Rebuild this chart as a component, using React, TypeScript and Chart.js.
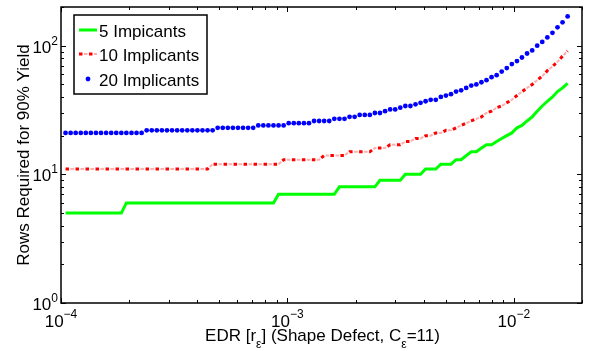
import React, { useEffect, useRef } from 'react';
import { Chart, registerables } from 'chart.js';

Chart.register(...registerables);

// EDR values (x), log-spaced grid
const edr = [
  1.047e-4, 1.103e-4, 1.161e-4, 1.223e-4, 1.287e-4, 1.355e-4, 1.427e-4, 1.502e-4, 1.582e-4, 1.666e-4,
  1.754e-4, 1.847e-4, 1.944e-4, 2.048e-4, 2.156e-4, 2.270e-4, 2.390e-4, 2.517e-4, 2.650e-4, 2.790e-4,
  2.938e-4, 3.093e-4, 3.257e-4, 3.429e-4, 3.611e-4, 3.802e-4, 4.003e-4, 4.215e-4, 4.438e-4, 4.673e-4,
  4.920e-4, 5.181e-4, 5.455e-4, 5.744e-4, 6.048e-4, 6.368e-4, 6.705e-4, 7.060e-4, 7.434e-4, 7.827e-4,
  8.241e-4, 8.678e-4, 9.137e-4, 9.621e-4, 1.013e-3, 1.067e-3, 1.123e-3, 1.183e-3, 1.245e-3, 1.311e-3,
  1.380e-3, 1.453e-3, 1.530e-3, 1.611e-3, 1.697e-3, 1.787e-3, 1.881e-3, 1.981e-3, 2.085e-3, 2.196e-3,
  2.312e-3, 2.434e-3, 2.563e-3, 2.699e-3, 2.842e-3, 2.992e-3, 3.151e-3, 3.317e-3, 3.493e-3, 3.678e-3,
  3.873e-3, 4.077e-3, 4.293e-3, 4.521e-3, 4.760e-3, 5.012e-3, 5.277e-3, 5.557e-3, 5.851e-3, 6.160e-3,
  6.486e-3, 6.830e-3, 7.191e-3, 7.572e-3, 7.973e-3, 8.395e-3, 8.839e-3, 9.307e-3, 9.800e-3, 1.032e-2,
  1.086e-2, 1.144e-2, 1.205e-2, 1.268e-2, 1.335e-2, 1.406e-2, 1.481e-2, 1.559e-2, 1.641e-2, 1.728e-2,
];

const rows5 = [
  5, 5, 5, 5, 5, 5, 5, 5, 5, 5,
  5, 5, 6, 6, 6, 6, 6, 6, 6, 6,
  6, 6, 6, 6, 6, 6, 6, 6, 6, 6,
  6, 6, 6, 6, 6, 6, 6, 6, 6, 6,
  6, 6, 7, 7, 7, 7, 7, 7, 7, 7,
  7, 7, 7, 7, 8, 8, 8, 8, 8, 8,
  8, 8, 9, 9, 9, 9, 9, 10, 10, 10,
  10, 11, 11, 11, 12, 12, 12, 13, 13, 14,
  15, 15, 16, 17, 17, 18, 19, 20, 21, 23,
  24, 26, 28, 31, 34, 37, 40, 44, 47, 51,
];

const rows10 = [
  11, 11, 11, 11, 11, 11, 11, 11, 11, 11,
  11, 11, 11, 11, 11, 11, 11, 11, 11, 11,
  11, 11, 11, 11, 11, 11, 11, 11, 11, 12,
  12, 12, 12, 12, 12, 12, 12, 12, 12, 12,
  12, 12, 12, 13, 13, 13, 13, 13, 13, 13,
  13, 14, 14, 14, 14, 14, 15, 15, 15, 15,
  15, 16, 16, 16, 17, 17, 17, 18, 18, 19,
  19, 20, 20, 21, 21, 22, 22, 23, 24, 25,
  26, 27, 28, 30, 31, 33, 34, 36, 38, 41,
  44, 47, 50, 54, 58, 64, 69, 75, 83, 91,
];

const rows20 = [
  21, 21, 21, 21, 21, 21, 21, 21, 21, 21,
  21, 21, 21, 21, 21, 21, 22, 22, 22, 22,
  22, 22, 22, 22, 22, 22, 22, 22, 22, 22,
  23, 23, 23, 23, 23, 23, 23, 23, 24, 24,
  24, 24, 24, 24, 25, 25, 25, 25, 25, 26,
  26, 26, 26, 27, 27, 27, 28, 28, 29, 29,
  29, 30, 30, 31, 32, 32, 33, 34, 34, 35,
  36, 37, 38, 38, 40, 41, 42, 44, 45, 47,
  49, 50, 52, 54, 57, 59, 63, 67, 72, 76,
  81, 87, 92, 100, 107, 116, 126, 139, 152, 169,
];

const seriesNames = ['5 Impicants', '10 Implicants', '20 Implicants'];
const xMajorTicks = [1e-4, 1e-3, 1e-2];
const xTickExponents = ['\u22124', '\u22123', '\u22122'];
const yMajorTicks = [1, 10, 100];
const yTickExponents = ['0', '1', '2'];
const xRange = [1e-4, 0.02];
const yRange = [1, 200];

const FONT = '"Liberation Sans", Arial, Helvetica, sans-serif';
const GREEN = '#00ff00';
const RED = '#ff0000';
const PALE_RED = 'rgba(255,0,0,0.32)';
const BLUE = '#0000ff';
const RED_DASH = [3.5, 6.5];

function drawPow(ctx: CanvasRenderingContext2D, base: string, exp: string, x: number, y: number, align: 'center' | 'right', raise: number) {
  ctx.font = `17px ${FONT}`;
  const wb = ctx.measureText(base).width;
  ctx.font = `12px ${FONT}`;
  const we = ctx.measureText(exp).width;
  const total = wb + we;
  const start = align === 'center' ? x - total / 2 : x - total;
  ctx.textAlign = 'left';
  ctx.textBaseline = 'alphabetic';
  ctx.font = `17px ${FONT}`;
  ctx.fillText(base, start, y);
  ctx.font = `12px ${FONT}`;
  ctx.fillText(exp, start + wb, y - raise);
}

const axesPlugin = {
  id: 'matlabAxes',
  afterDatasetsDraw(chart: any) {
    const { ctx, chartArea: a, scales } = chart;
    const xs = scales.x;
    const ys = scales.y;
    ctx.save();
    ctx.strokeStyle = '#000';
    ctx.fillStyle = '#000';
    ctx.lineWidth = 1;
    const seg = (x1: number, y1: number, x2: number, y2: number) => {
      ctx.beginPath();
      ctx.moveTo(x1, y1);
      ctx.lineTo(x2, y2);
      ctx.stroke();
    };
    // x ticks
    xMajorTicks.forEach((v) => {
      for (let m = 1; m < 10; m++) {
        const val = v * m;
        if (val > xs.max * 1.0001) break;
        const px = Math.round(xs.getPixelForValue(val)) + 0.5;
        const len = m === 1 ? 5 : 3;
        seg(px, a.bottom, px, a.bottom - len);
        seg(px, a.top, px, a.top + len);
      }
    });
    // y ticks
    yMajorTicks.forEach((v) => {
      for (let m = 1; m < 10; m++) {
        const val = v * m;
        if (val > ys.max * 1.0001) break;
        const py = Math.round(ys.getPixelForValue(val)) + 0.5;
        const len = m === 1 ? 5 : 3;
        seg(a.left, py, a.left + len, py);
        seg(a.right, py, a.right - len, py);
      }
    });
    // frame
    ctx.lineWidth = 1.5;
    ctx.strokeRect(a.left, a.top, a.right - a.left, a.bottom - a.top);

    // tick labels
    xMajorTicks.forEach((v, i) => {
      const px = xs.getPixelForValue(v);
      drawPow(ctx, '10', xTickExponents[i], px, a.bottom + 24, 'center', 9.5);
    });
    yMajorTicks.forEach((v, i) => {
      const py = ys.getPixelForValue(v);
      drawPow(ctx, '10', yTickExponents[i], a.left - 3, py + 7, 'right', 8);
    });

    // x title with subscripts
    const parts: [string, boolean][] = [
      ['EDR [r', false],
      ['\u03b5', true],
      ['] (Shape Defect, C', false],
      ['\u03b5', true],
      ['=11)', false],
    ];
    let total = 0;
    parts.forEach(([t, sub]) => {
      ctx.font = `${sub ? 12 : 17}px ${FONT}`;
      total += ctx.measureText(t).width;
    });
    let cx = (a.left + a.right) / 2 + 1 - total / 2;
    ctx.textAlign = 'left';
    ctx.textBaseline = 'alphabetic';
    parts.forEach(([t, sub]) => {
      ctx.font = `${sub ? 12 : 17}px ${FONT}`;
      ctx.fillText(t, cx, sub ? 348 : 341);
      cx += ctx.measureText(t).width;
    });

    // y title
    ctx.save();
    ctx.translate(29, (a.top + a.bottom) / 2);
    ctx.rotate(-Math.PI / 2);
    ctx.font = `17px ${FONT}`;
    ctx.textAlign = 'center';
    ctx.fillText('Rows Required for 90% Yield', 0, 0);
    ctx.restore();

    // legend
    const lx = a.left + 13;
    const ly = a.top + 8;
    const lw = 133;
    const lh = 79;
    ctx.fillStyle = '#fff';
    ctx.fillRect(lx, ly, lw, lh);
    ctx.lineWidth = 1.5;
    ctx.strokeStyle = '#000';
    ctx.strokeRect(lx, ly, lw, lh);
    const sx1 = lx + 5;
    const sx2 = lx + 23;
    const rowY = [ly + 15, ly + 39, ly + 64];
    // green sample
    ctx.setLineDash([]);
    ctx.strokeStyle = GREEN;
    ctx.lineWidth = 3;
    seg(sx1, rowY[0], sx2, rowY[0]);
    // red sample
    ctx.strokeStyle = PALE_RED;
    ctx.lineWidth = 2;
    ctx.setLineDash(RED_DASH);
    ctx.lineDashOffset = 5;
    seg(sx1, rowY[1], sx2, rowY[1]);
    ctx.strokeStyle = RED;
    ctx.lineWidth = 3;
    ctx.lineDashOffset = 0;
    seg(sx1, rowY[1], sx2, rowY[1]);
    ctx.setLineDash([]);
    // blue sample
    ctx.fillStyle = BLUE;
    ctx.beginPath();
    ctx.arc((sx1 + sx2) / 2, rowY[2], 2.4, 0, Math.PI * 2);
    ctx.fill();
    // texts
    ctx.fillStyle = '#000';
    ctx.font = `17px ${FONT}`;
    ctx.textAlign = 'left';
    seriesNames.forEach((n, i) => {
      ctx.fillText(n, lx + 25, rowY[i] + 6.5);
    });
    ctx.restore();
  },
};

export default function App() {
  const ref = useRef<HTMLCanvasElement | null>(null);
  useEffect(() => {
    if (!ref.current) return;
    const pts = (ys: number[]) => edr.map((x, i) => ({ x, y: ys[i] }));
    const chart = new Chart(ref.current, {
      type: 'line',
      data: {
        datasets: [
          {
            label: seriesNames[0],
            data: pts(rows5),
            borderColor: GREEN,
            backgroundColor: GREEN,
            borderWidth: 3,
            pointRadius: 0,
            tension: 0,
            fill: false,
          },
          {
            label: seriesNames[1] + ' halo',
            data: pts(rows10),
            borderColor: PALE_RED,
            borderWidth: 2,
            borderDash: RED_DASH,
            borderDashOffset: 5,
            pointRadius: 0,
            tension: 0,
            fill: false,
          },
          {
            label: seriesNames[1],
            data: pts(rows10),
            borderColor: RED,
            backgroundColor: RED,
            borderWidth: 3,
            borderDash: RED_DASH,
            pointRadius: 0,
            tension: 0,
            fill: false,
          },
          {
            label: seriesNames[2],
            data: pts(rows20),
            showLine: false,
            borderColor: BLUE,
            backgroundColor: BLUE,
            pointBackgroundColor: BLUE,
            pointBorderWidth: 0,
            pointRadius: 2.4,
            fill: false,
          },
        ],
      } as any,
      options: {
        responsive: false,
        animation: false,
        devicePixelRatio: 1,
        layout: { padding: { left: 61, right: 7, top: 7, bottom: 48 } },
        plugins: { legend: { display: false }, tooltip: { enabled: false } },
        events: [],
        scales: {
          x: { type: 'logarithmic', min: xRange[0], max: xRange[1], display: false },
          y: { type: 'logarithmic', min: yRange[0], max: yRange[1], display: false },
        },
      } as any,
      plugins: [axesPlugin],
    });
    return () => chart.destroy();
  }, []);
  return (
    <div style={{ position: 'absolute', left: 0, top: 0, width: 589, height: 351, background: '#fff' }}>
      <canvas ref={ref} width={589} height={351} />
    </div>
  );
}
